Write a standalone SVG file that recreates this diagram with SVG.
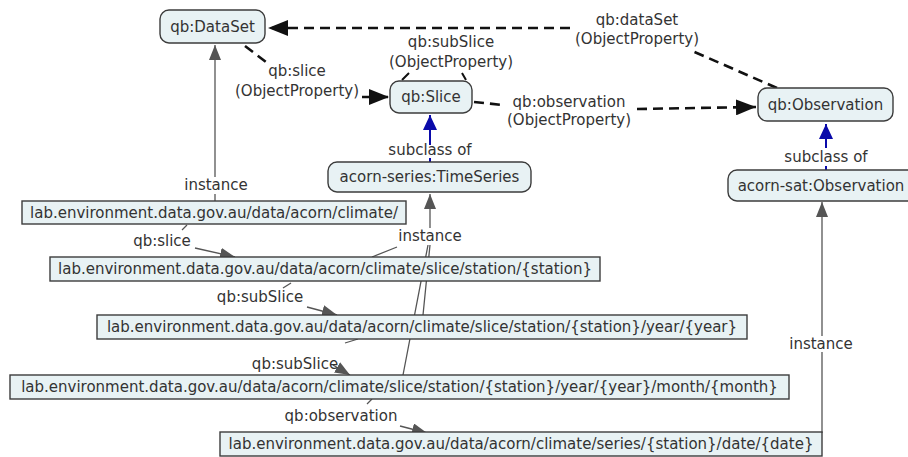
<svg xmlns="http://www.w3.org/2000/svg" width="908" height="457" viewBox="0 0 908 457">
<style>
.bg{fill:#ffffff}
.cn rect{fill:#e8f2f4;stroke:#3c3c3c;stroke-width:1.4}
.un rect{fill:#e8f2f4;stroke:#3c3c3c;stroke-width:1.4}
text{font-family:"DejaVu Sans","Verdana",sans-serif;font-size:15px;fill:#333;text-anchor:middle}
.dash{fill:none;stroke:#111;stroke-width:2.6;stroke-dasharray:10,6}
.tick{fill:none;stroke:#111;stroke-width:2}
.gray{fill:none;stroke:#555;stroke-width:1.3}
.blue{fill:none;stroke:#0a0aaa;stroke-width:2}
</style>
<defs>
<marker id="ab" markerUnits="userSpaceOnUse" markerWidth="22" markerHeight="16" refX="20" refY="8" orient="auto"><path d="M0,0 L20,8 L0,16 Z" fill="#111"/></marker>
<marker id="ag" markerUnits="userSpaceOnUse" markerWidth="16" markerHeight="12" refX="15" refY="6" orient="auto"><path d="M0,0 L15,6 L0,12 Z" fill="#555"/></marker>
<marker id="abl" markerUnits="userSpaceOnUse" markerWidth="16" markerHeight="14" refX="15" refY="7" orient="auto"><path d="M0,0 L15,7 L0,14 Z" fill="#0a0aaa"/></marker>
</defs>
<rect class="bg" x="0" y="0" width="908" height="457"/>
<g id="connectors">
<path class="dash" d="M777,88 L690,50"/>
<path class="dash" d="M570,28 L268,28" marker-end="url(#ab)"/>
<path class="dash" d="M245,46 L266,62"/>
<path class="dash" d="M362,97 L389,97" marker-end="url(#ab)"/>
<path class="tick" d="M402,80 L409,73 M462,73 L466,80"/>
<path class="dash" d="M474,102 L503,105"/>
<path class="dash" d="M637,109 L756,107" marker-end="url(#ab)"/>
<path class="blue" d="M430,162 L430,158 M430,145 L430,116"/>
<path class="blue" d="M430,140 L430,115" marker-end="url(#abl)"/>
<path class="blue" d="M826,170 L826,166"/>
<path class="blue" d="M826,148 L826,124" marker-end="url(#abl)"/>
<path class="gray" d="M215,201 L215,194"/>
<path class="gray" d="M215,177 L215,45" marker-end="url(#ag)"/>
<path class="gray" d="M430,228 L430,194" marker-end="url(#ag)"/>
<path class="gray" d="M397,247 L372,257 M430,245 L423,315 M428,245 L403,375"/>
<path class="gray" d="M822,433 L822,352"/>
<path class="gray" d="M822,336 L822,202" marker-end="url(#ag)"/>
<path class="gray" d="M182,230 L187,225"/>
<path class="gray" d="M195,248 L235,257" marker-end="url(#ag)"/>
<path class="gray" d="M283,288 L291,283"/>
<path class="gray" d="M307,307 L337,315" marker-end="url(#ag)"/>
<path class="gray" d="M345,343 L358,339"/>
<path class="gray" d="M333,365 L350,375" marker-end="url(#ag)"/>
<path class="gray" d="M367,404 L372,399"/>
<path class="gray" d="M400,426 L427,433" marker-end="url(#ag)"/>
</g>
<g id="labels">
<text x="637" y="25">qb:dataSet</text>
<text x="637" y="44">(ObjectProperty)</text>
<text x="297" y="76">qb:slice</text>
<text x="297" y="96">(ObjectProperty)</text>
<text x="451" y="47">qb:subSlice</text>
<text x="451" y="67">(ObjectProperty)</text>
<text x="569" y="107">qb:observation</text>
<text x="569" y="125">(ObjectProperty)</text>
<text x="430" y="155">subclass of</text>
<text x="826" y="162">subclass of</text>
<text x="216" y="190">instance</text>
<text x="430" y="241">instance</text>
<text x="821" y="349">instance</text>
<text x="162" y="246">qb:slice</text>
<text x="260" y="302">qb:subSlice</text>
<text x="295" y="369">qb:subSlice</text>
<text x="341" y="421">qb:observation</text>
</g>
<g id="n-dataset" class="cn"><rect x="160" y="10" width="105" height="33" rx="9"/><text x="212.5" y="32">qb:DataSet</text></g>
<g id="n-slice" class="cn"><rect x="390" y="81" width="82" height="32" rx="9"/><text x="431" y="102">qb:Slice</text></g>
<g id="n-timeseries" class="cn"><rect x="328" y="162" width="203" height="30" rx="9"/><text x="429.5" y="182">acorn-series:TimeSeries</text></g>
<g id="n-observation" class="cn"><rect x="758" y="88" width="135" height="33" rx="9"/><text x="825.5" y="110">qb:Observation</text></g>
<g id="n-acornsat" class="cn"><rect x="728" y="170" width="192" height="31" rx="9"/><text x="821" y="191">acorn-sat:Observation</text></g>
<g id="n-climate" class="un"><rect x="22" y="201" width="384" height="23"/><text x="214" y="218">lab.environment.data.gov.au/data/acorn/climate/</text></g>
<g id="n-station" class="un"><rect x="50" y="257" width="550" height="24"/><text x="325" y="274">lab.environment.data.gov.au/data/acorn/climate/slice/station/{station}</text></g>
<g id="n-year" class="un"><rect x="97" y="315" width="650" height="24"/><text x="422" y="332">lab.environment.data.gov.au/data/acorn/climate/slice/station/{station}/year/{year}</text></g>
<g id="n-month" class="un"><rect x="10" y="375" width="779" height="24"/><text x="399.5" y="392">lab.environment.data.gov.au/data/acorn/climate/slice/station/{station}/year/{year}/month/{month}</text></g>
<g id="n-date" class="un"><rect x="220" y="432" width="602" height="24"/><text x="521" y="449">lab.environment.data.gov.au/data/acorn/climate/series/{station}/date/{date}</text></g>
</svg>
